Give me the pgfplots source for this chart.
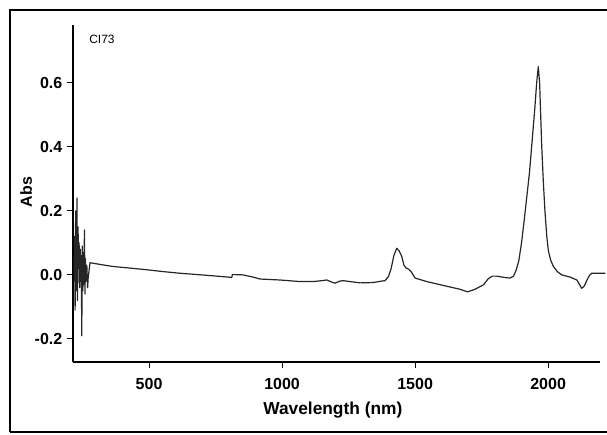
\documentclass[border=0pt]{standalone}
\usepackage{pgfplots}
\pgfplotsset{compat=1.18}
\usepackage{fontspec}
\setmainfont{Liberation Sans}
\begin{document}
\begin{tikzpicture}
\useasboundingbox (0,0) rectangle (455.25pt,326.25pt);
\draw[line width=1pt] (7.5pt,2.25pt) -- (7.5pt,318.75pt) -- (460pt,318.75pt);
\draw[line width=1pt] (7.5pt,2.25pt) -- (460pt,2.25pt);
\begin{axis}[
  at={(54.75pt,54.75pt)}, anchor=south west,
  scale only axis, width=395.25pt, height=252.75pt,
  xmin=214, xmax=2195, ymin=-0.272, ymax=0.78,
  axis x line=bottom, axis y line=left,
  x axis line style={-, line width=0.8pt, black},
  y axis line style={-, line width=0.8pt, black},
  tick align=outside, major tick length=4.5pt,
  tick style={line width=0.8pt, black},
  xtick={500,1000,1500,2000},
  ytick={-0.2,0,0.2,0.4,0.6},
  yticklabel style={/pgf/number format/fixed,/pgf/number format/fixed zerofill,/pgf/number format/precision=1, font=\bfseries\fontsize{12}{14}\selectfont},
  xticklabel style={font=\bfseries\fontsize{12}{14}\selectfont, yshift=-4pt},
  /pgf/number format/assume math mode=true,
  /pgf/number format/1000 sep={},
  xlabel={Wavelength (nm)},
  xlabel style={at={(axis description cs:0.493,0)}, anchor=center, yshift=-36pt, font=\bfseries\fontsize{13}{15}\selectfont},
  ylabel={Abs},
  ylabel style={at={(axis description cs:-0.089,0.504)}, anchor=center, font=\bfseries\fontsize{12}{14}\selectfont},
  clip=false,
]
\addplot[line width=0.9pt, black!85, line join=round] table {
x y
218 -0.02
220 0.12
222 -0.11
224 0.20
226 -0.05
229 0.24
231 -0.08
233 0.15
235 0.02
237 0.10
239 -0.04
241 0.08
243 -0.02
245 0.06
247 -0.19
249 0.09
251 -0.05
253 0.07
255 -0.03
257 0.14
259 -0.06
261 0.05
263 -0.02
266 0.03
269 -0.04
271 -0.01
278 0.038
320 0.032
366 0.026
430 0.021
491 0.016
555 0.010
617 0.005
680 0.001
741 -0.003
811 -0.008
813 0.001
853 0.000
891 -0.007
917 -0.013
992 -0.016
1068 -0.021
1117 -0.021
1150 -0.018
1168 -0.016
1185 -0.022
1199 -0.026
1215 -0.020
1229 -0.018
1256 -0.021
1293 -0.025
1342 -0.024
1370 -0.020
1387 -0.018
1400 -0.005
1410 0.020
1420 0.060
1431 0.083
1440 0.075
1450 0.057
1458 0.030
1465 0.022
1475 0.018
1485 0.010
1500 -0.010
1544 -0.021
1606 -0.033
1669 -0.045
1697 -0.053
1725 -0.045
1757 -0.031
1775 -0.012
1790 -0.004
1807 -0.004
1835 -0.008
1857 -0.010
1870 -0.004
1880 0.015
1890 0.045
1900 0.100
1910 0.170
1920 0.245
1930 0.320
1940 0.420
1950 0.520
1957 0.600
1963 0.650
1968 0.600
1972 0.500
1976 0.400
1982 0.290
1988 0.200
1995 0.120
2001 0.075
2010 0.045
2020 0.026
2035 0.010
2051 0.000
2083 -0.007
2108 -0.016
2118 -0.030
2126 -0.042
2136 -0.035
2145 -0.018
2155 -0.002
2164 0.005
2215 0.005
};
\node[font=\fontsize{9}{11}\selectfont, anchor=center] at (axis description cs:0.055,0.958) {CI73};
\end{axis}
\end{tikzpicture}
\end{document}
